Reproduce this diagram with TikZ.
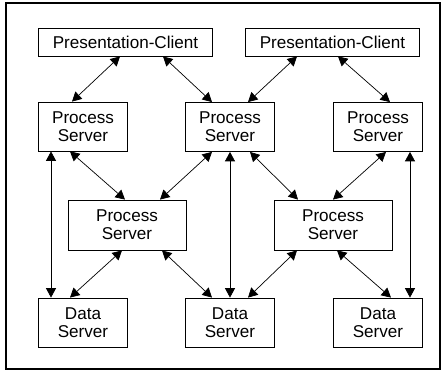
\documentclass[tikz,border=0pt]{standalone}
\usepackage{fontspec}
\setmainfont{Liberation Sans}
\usetikzlibrary{calc,arrows.meta}

\begin{document}
\begin{tikzpicture}[x=0.03cm,y=-0.03cm,
  box/.style={draw,line width=0.7pt,inner sep=0pt,align=center,font=\fontsize{14.6}{15.2}\selectfont},
  pcbox/.style={box,minimum width=5.2cm,minimum height=0.84cm},
  srvbox/.style={box,minimum width=2.67cm,minimum height=1.47cm},
  midbox/.style={box,minimum width=3.54cm,minimum height=1.5cm},
  link/.style={line width=0.6pt,{Triangle[length=8pt,width=8.5pt]}-{Triangle[length=8pt,width=8.5pt]}}]
  \useasboundingbox (0,0) rectangle (443,372);
  \draw[line width=0.9pt] (6,3) rectangle (440,369);

  % clients
  \node[pcbox] (pc1) at (125.5,42) {Presentation-Client};
  \node[pcbox] (pc2) at (332.5,42) {Presentation-Client};
  % process servers, upper row
  \node[srvbox] (ps1) at (83,126.5) {Process\\Server};
  \node[srvbox] (ps2) at (230,127) {Process\\Server};
  \node[srvbox] (ps3) at (378,127) {Process\\Server};
  % process servers, middle row
  \node[midbox] (mid1) at (127,225) {Process\\Server};
  \node[midbox] (mid2) at (333,225) {Process\\Server};
  % data servers
  \node[srvbox] (ds1) at (83,322.5) {Data\\Server};
  \node[srvbox] (ds2) at (230,322.5) {Data\\Server};
  \node[srvbox] (ds3) at (378,322.5) {Data\\Server};

  \draw[link] ($(pc1.south)+(-5.5,0)$) -- ($(ps1.north)+(-11,0)$);
  \draw[link] ($(pc1.south)+(37.5,0)$) -- ($(ps2.north)+(-18,0)$);
  \draw[link] ($(pc2.south)+(-35.5,0)$) -- ($(ps2.north)+(18,0)$);
  \draw[link] ($(pc2.south)+(5.5,0)$) -- ($(ps3.north)+(12,0)$);

  \draw[link] ($(ps1.south)+(-13,0)$) -- ($(mid1.north)+(-2,0)$);
  \draw[link] ($(ps2.south)+(-18,0)$) -- ($(mid1.north)+(33,0)$);
  \draw[link] ($(ps2.south)+(20,0)$) -- ($(mid2.north)+(-35,0)$);
  \draw[link] ($(ps3.south)+(8,0)$) -- ($(mid2.north)+(0,0)$);

  \draw[link] ($(mid1.south)+(-5,0)$) -- ($(ds1.north)+(-13,0)$);
  \draw[link] ($(mid1.south)+(35,0)$) -- ($(ds2.north)+(-18,0)$);
  \draw[link] ($(mid2.south)+(-36,0)$) -- ($(ds2.north)+(18,0)$);
  \draw[link] ($(mid2.south)+(4,0)$) -- ($(ds3.north)+(13,0)$);

  % straight links past the middle row
  \draw[link] ($(ps1.south)+(-32,0)$) -- ($(ds1.north)+(-32,0)$);
  \draw[link] (ps2) -- (ds2);
  \draw[link] ($(ps3.south)+(32,0)$) -- ($(ds3.north)+(32,0)$);
\end{tikzpicture}
\end{document}
